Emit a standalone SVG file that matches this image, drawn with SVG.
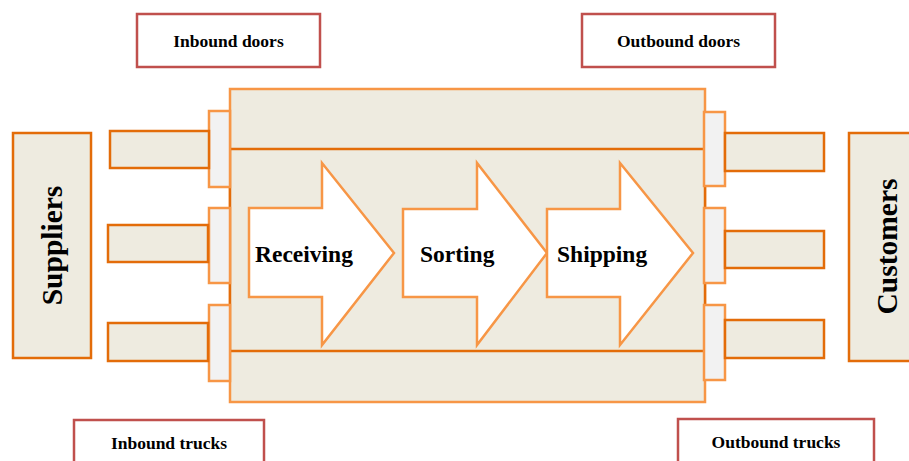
<svg xmlns="http://www.w3.org/2000/svg" width="909" height="461" viewBox="0 0 909 461">
  <style>
    .label-box { fill: #ffffff; stroke: #c0504d; stroke-width: 2.5; }
    .beige-dark { fill: #eeebe0; stroke: #e36c09; stroke-width: 2.5; }
    .beige-light { fill: #eeebe0; stroke: #f79646; stroke-width: 2.5; }
    .door { fill: #f2f2f2; stroke: #f79646; stroke-width: 2.5; }
    .step { fill: #ffffff; stroke: #f79646; stroke-width: 2.5; stroke-linejoin: miter; }
    .txt { font-family: "Liberation Serif", "Times New Roman", serif; font-weight: bold; fill: #000000; }
    .small { font-size: 17.5px; text-anchor: middle; }
    .step-txt { font-size: 23.5px; }
    .big { font-size: 29.5px; text-anchor: middle; }
  </style>

  <!-- Warehouse building -->
  <g id="warehouse">
    <rect class="beige-light" x="230" y="89" width="475" height="313"/>
    <rect class="beige-dark" x="230" y="149" width="475" height="202" fill="none"/>
  </g>

  <!-- Inbound dock doors -->
  <g id="inbound-door-1"><rect class="door" x="209" y="111" width="21" height="76"/></g>
  <g id="inbound-door-2"><rect class="door" x="209" y="208" width="21" height="75"/></g>
  <g id="inbound-door-3"><rect class="door" x="209" y="305" width="21" height="76"/></g>

  <!-- Outbound dock doors -->
  <g id="outbound-door-1"><rect class="door" x="704" y="112" width="21" height="74"/></g>
  <g id="outbound-door-2"><rect class="door" x="704" y="208" width="21" height="75"/></g>
  <g id="outbound-door-3"><rect class="door" x="704" y="305" width="21" height="75"/></g>

  <!-- Inbound trucks -->
  <g id="inbound-truck-1"><rect class="beige-dark" x="110" y="131" width="99" height="37"/></g>
  <g id="inbound-truck-2"><rect class="beige-dark" x="108" y="225" width="100" height="37"/></g>
  <g id="inbound-truck-3"><rect class="beige-dark" x="108" y="323" width="100" height="38"/></g>

  <!-- Outbound trucks -->
  <g id="outbound-truck-1"><rect class="beige-dark" x="725" y="133" width="99" height="38"/></g>
  <g id="outbound-truck-2"><rect class="beige-dark" x="725" y="231" width="99" height="37"/></g>
  <g id="outbound-truck-3"><rect class="beige-dark" x="725" y="320" width="99" height="38"/></g>

  <!-- Suppliers -->
  <g id="suppliers">
    <rect class="beige-dark" x="13" y="133" width="78" height="225"/>
    <text class="txt big" transform="translate(62 245.5) rotate(-90)" x="0" y="0">Suppliers</text>
  </g>

  <!-- Customers -->
  <g id="customers">
    <rect class="beige-dark" x="849" y="133" width="70" height="228"/>
    <text class="txt big" transform="translate(897 246.5) rotate(-90)" x="0" y="0">Customers</text>
  </g>

  <!-- Process steps -->
  <g id="receiving">
    <polygon class="step" points="249,208 322,208 322,163 394,253 322,345 322,297 249,297"/>
    <text class="txt step-txt" x="255" y="262">Receiving</text>
  </g>
  <g id="sorting">
    <polygon class="step" points="403,209 477,209 477,163 547,253 477,345 477,297 403,297"/>
    <text class="txt step-txt" x="420" y="262">Sorting</text>
  </g>
  <g id="shipping">
    <polygon class="step" points="547,209 620,209 620,163 693,253 620,345 620,297 547,297"/>
    <text class="txt step-txt" x="557" y="262">Shipping</text>
  </g>

  <!-- Callout labels -->
  <g id="label-inbound-doors">
    <rect class="label-box" x="137" y="14" width="183" height="53"/>
    <text class="txt small" x="228.5" y="47">Inbound doors</text>
  </g>
  <g id="label-outbound-doors">
    <rect class="label-box" x="582" y="14" width="193" height="53"/>
    <text class="txt small" x="678.5" y="47">Outbound doors</text>
  </g>
  <g id="label-inbound-trucks">
    <rect class="label-box" x="74" y="420" width="190" height="60"/>
    <text class="txt small" x="169" y="449">Inbound trucks</text>
  </g>
  <g id="label-outbound-trucks">
    <rect class="label-box" x="678" y="419" width="196" height="60"/>
    <text class="txt small" x="776" y="448">Outbound trucks</text>
  </g>

  <g id="connectors"/>
</svg>
